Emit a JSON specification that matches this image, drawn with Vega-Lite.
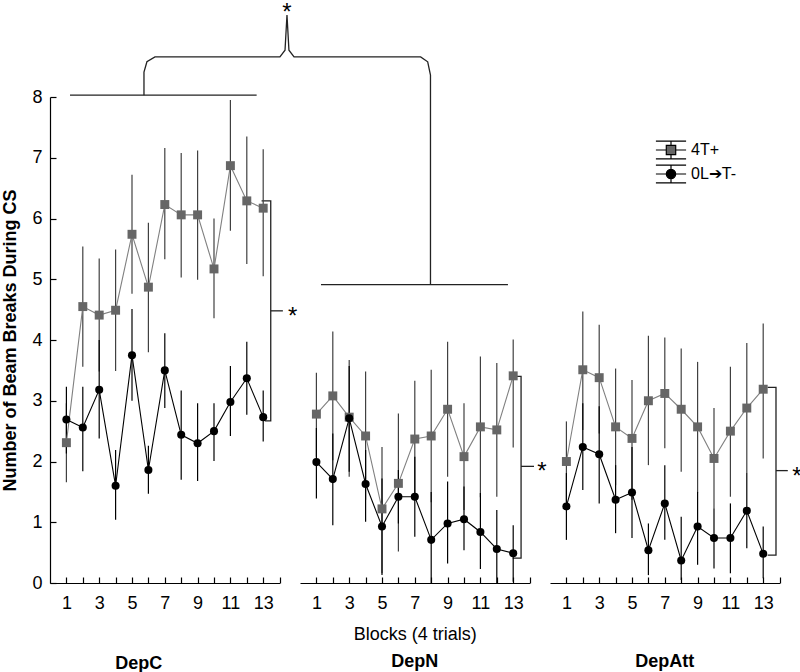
{
  "$schema": "https://vega.github.io/schema/vega-lite/v6.json",
  "padding": {"left": 1, "top": 1, "right": 0, "bottom": 0},
  "background": "white",
  "bounds": "flush",
  "spacing": 20,
  "config": {
    "font": "Liberation Sans",
    "view": {"stroke": null},
    "axis": {"grid": false, "domainColor": "#000", "tickColor": "#000", "labelColor": "#000", "titleColor": "#000", "labelFontSize": 18, "titleFontSize": 18, "titleFontWeight": "normal", "tickSize": -6, "domainWidth": 1.2, "tickWidth": 1.2, "labelFlush": false, "labelOverlap": false},
    "title": {"fontSize": 18, "fontWeight": "bold", "color": "#000", "orient": "bottom"},
    "legend": {"orient": "none", "legendX": 609, "legendY": 41, "padding": 0, "labelFontSize": 16, "labelOffset": 8, "rowPadding": 0, "symbolSize": 500, "labelColor": "#000", "symbolStrokeColor": "#000", "symbolStrokeWidth": 1, "symbolOpacity": 1}
  },
  "resolve": {"scale": {"x": "independent", "y": "independent"}},
  "datasets": {
    "d": [
      {"p":"DepC","s":"4T+","b":1,"m":2.31,"lo":1.66,"hi":2.96},
      {"p":"DepC","s":"4T+","b":2,"m":4.55,"lo":3.56,"hi":5.54},
      {"p":"DepC","s":"4T+","b":3,"m":4.41,"lo":3.48,"hi":5.34},
      {"p":"DepC","s":"4T+","b":4,"m":4.49,"lo":3.49,"hi":5.49},
      {"p":"DepC","s":"4T+","b":5,"m":5.74,"lo":4.76,"hi":6.72},
      {"p":"DepC","s":"4T+","b":6,"m":4.87,"lo":3.80,"hi":5.93},
      {"p":"DepC","s":"4T+","b":7,"m":6.23,"lo":5.33,"hi":7.16},
      {"p":"DepC","s":"4T+","b":8,"m":6.06,"lo":5.03,"hi":7.08},
      {"p":"DepC","s":"4T+","b":9,"m":6.06,"lo":4.99,"hi":7.12},
      {"p":"DepC","s":"4T+","b":10,"m":5.17,"lo":4.36,"hi":6.00},
      {"p":"DepC","s":"4T+","b":11,"m":6.87,"lo":5.80,"hi":7.95},
      {"p":"DepC","s":"4T+","b":12,"m":6.29,"lo":5.25,"hi":7.35},
      {"p":"DepC","s":"4T+","b":13,"m":6.17,"lo":5.05,"hi":7.14},
      {"p":"DepC","s":"0L→T-","b":1,"m":2.69,"lo":2.13,"hi":3.23},
      {"p":"DepC","s":"0L→T-","b":2,"m":2.56,"lo":1.84,"hi":3.23},
      {"p":"DepC","s":"0L→T-","b":3,"m":3.18,"lo":2.38,"hi":4.00},
      {"p":"DepC","s":"0L→T-","b":4,"m":1.60,"lo":1.04,"hi":2.19},
      {"p":"DepC","s":"0L→T-","b":5,"m":3.75,"lo":3.00,"hi":4.51},
      {"p":"DepC","s":"0L→T-","b":6,"m":1.86,"lo":1.47,"hi":2.26},
      {"p":"DepC","s":"0L→T-","b":7,"m":3.50,"lo":2.88,"hi":4.11},
      {"p":"DepC","s":"0L→T-","b":8,"m":2.44,"lo":1.70,"hi":3.17},
      {"p":"DepC","s":"0L→T-","b":9,"m":2.30,"lo":1.68,"hi":2.96},
      {"p":"DepC","s":"0L→T-","b":10,"m":2.50,"lo":2.01,"hi":2.96},
      {"p":"DepC","s":"0L→T-","b":11,"m":2.98,"lo":2.42,"hi":3.57},
      {"p":"DepC","s":"0L→T-","b":12,"m":3.37,"lo":2.77,"hi":3.97},
      {"p":"DepC","s":"0L→T-","b":13,"m":2.73,"lo":2.33,"hi":3.17},
      {"p":"DepN","s":"4T+","b":1,"m":2.78,"lo":2.08,"hi":3.46},
      {"p":"DepN","s":"4T+","b":2,"m":3.08,"lo":2.02,"hi":4.14},
      {"p":"DepN","s":"4T+","b":3,"m":2.73,"lo":1.75,"hi":3.67},
      {"p":"DepN","s":"4T+","b":4,"m":2.42,"lo":1.37,"hi":3.48},
      {"p":"DepN","s":"4T+","b":5,"m":1.22,"lo":0.16,"hi":2.24},
      {"p":"DepN","s":"4T+","b":6,"m":1.64,"lo":0.52,"hi":2.79},
      {"p":"DepN","s":"4T+","b":7,"m":2.37,"lo":1.42,"hi":3.33},
      {"p":"DepN","s":"4T+","b":8,"m":2.42,"lo":1.33,"hi":3.51},
      {"p":"DepN","s":"4T+","b":9,"m":2.86,"lo":1.75,"hi":3.97},
      {"p":"DepN","s":"4T+","b":10,"m":2.08,"lo":1.20,"hi":2.96},
      {"p":"DepN","s":"4T+","b":11,"m":2.57,"lo":1.41,"hi":3.73},
      {"p":"DepN","s":"4T+","b":12,"m":2.52,"lo":1.42,"hi":3.62},
      {"p":"DepN","s":"4T+","b":13,"m":3.41,"lo":2.23,"hi":4.01},
      {"p":"DepN","s":"0L→T-","b":1,"m":1.99,"lo":1.39,"hi":2.55},
      {"p":"DepN","s":"0L→T-","b":2,"m":1.71,"lo":0.95,"hi":2.46},
      {"p":"DepN","s":"0L→T-","b":3,"m":2.71,"lo":1.83,"hi":3.57},
      {"p":"DepN","s":"0L→T-","b":4,"m":1.63,"lo":1.01,"hi":2.19},
      {"p":"DepN","s":"0L→T-","b":5,"m":0.93,"lo":0.13,"hi":1.72},
      {"p":"DepN","s":"0L→T-","b":6,"m":1.42,"lo":0.98,"hi":1.86},
      {"p":"DepN","s":"0L→T-","b":7,"m":1.42,"lo":0.76,"hi":2.08},
      {"p":"DepN","s":"0L→T-","b":8,"m":0.71,"lo":0.0,"hi":1.50},
      {"p":"DepN","s":"0L→T-","b":9,"m":0.98,"lo":0.32,"hi":1.67},
      {"p":"DepN","s":"0L→T-","b":10,"m":1.05,"lo":0.54,"hi":1.59},
      {"p":"DepN","s":"0L→T-","b":11,"m":0.84,"lo":0.23,"hi":1.48},
      {"p":"DepN","s":"0L→T-","b":12,"m":0.56,"lo":0.0,"hi":1.20},
      {"p":"DepN","s":"0L→T-","b":13,"m":0.49,"lo":0.02,"hi":0.95},
      {"p":"DepAtt","s":"4T+","b":1,"m":2.00,"lo":1.34,"hi":2.66},
      {"p":"DepAtt","s":"4T+","b":2,"m":3.51,"lo":2.52,"hi":4.47},
      {"p":"DepAtt","s":"4T+","b":3,"m":3.38,"lo":2.46,"hi":4.25},
      {"p":"DepAtt","s":"4T+","b":4,"m":2.57,"lo":1.61,"hi":3.53},
      {"p":"DepAtt","s":"4T+","b":5,"m":2.38,"lo":1.37,"hi":3.34},
      {"p":"DepAtt","s":"4T+","b":6,"m":3.00,"lo":1.94,"hi":4.07},
      {"p":"DepAtt","s":"4T+","b":7,"m":3.12,"lo":2.22,"hi":4.04},
      {"p":"DepAtt","s":"4T+","b":8,"m":2.86,"lo":1.83,"hi":3.86},
      {"p":"DepAtt","s":"4T+","b":9,"m":2.57,"lo":1.49,"hi":3.64},
      {"p":"DepAtt","s":"4T+","b":10,"m":2.05,"lo":1.23,"hi":2.88},
      {"p":"DepAtt","s":"4T+","b":11,"m":2.50,"lo":1.42,"hi":3.56},
      {"p":"DepAtt","s":"4T+","b":12,"m":2.88,"lo":1.81,"hi":3.95},
      {"p":"DepAtt","s":"4T+","b":13,"m":3.19,"lo":2.05,"hi":4.27},
      {"p":"DepAtt","s":"0L→T-","b":1,"m":1.26,"lo":0.71,"hi":1.81},
      {"p":"DepAtt","s":"0L→T-","b":2,"m":2.24,"lo":1.53,"hi":2.96},
      {"p":"DepAtt","s":"0L→T-","b":3,"m":2.12,"lo":1.31,"hi":2.91},
      {"p":"DepAtt","s":"0L→T-","b":4,"m":1.37,"lo":0.82,"hi":1.94},
      {"p":"DepAtt","s":"0L→T-","b":5,"m":1.49,"lo":0.74,"hi":2.24},
      {"p":"DepAtt","s":"0L→T-","b":6,"m":0.54,"lo":0.13,"hi":0.98},
      {"p":"DepAtt","s":"0L→T-","b":7,"m":1.31,"lo":0.71,"hi":1.94},
      {"p":"DepAtt","s":"0L→T-","b":8,"m":0.37,"lo":0.05,"hi":1.09},
      {"p":"DepAtt","s":"0L→T-","b":9,"m":0.93,"lo":0.30,"hi":1.50},
      {"p":"DepAtt","s":"0L→T-","b":10,"m":0.74,"lo":0.24,"hi":1.23},
      {"p":"DepAtt","s":"0L→T-","b":11,"m":0.74,"lo":0.16,"hi":1.31},
      {"p":"DepAtt","s":"0L→T-","b":12,"m":1.19,"lo":0.57,"hi":1.81},
      {"p":"DepAtt","s":"0L→T-","b":13,"m":0.48,"lo":0.08,"hi":0.93}
    ],
    "ann": [
      {"p":"DepC","g":"top","o":1,"b":1.22,"m":8.03},
      {"p":"DepC","g":"top","o":2,"b":12.6,"m":8.03},
      {"p":"DepC","g":"brace","o":1,"b":5.73,"m":8.03},
      {"p":"DepC","g":"brace","o":2,"b":5.73,"m":8.41},
      {"p":"DepC","g":"brace","o":3,"b":5.91,"m":8.58},
      {"p":"DepC","g":"brace","o":4,"b":6.4,"m":8.66},
      {"p":"DepC","g":"brace","o":5,"b":14.02,"m":8.66},
      {"p":"DepC","g":"brace","o":6,"b":14.33,"m":8.77},
      {"p":"DepC","g":"brace","o":7,"b":14.45,"m":9.35},
      {"p":"DepC","g":"brace","o":8,"b":14.57,"m":8.77},
      {"p":"DepC","g":"brace","o":9,"b":14.88,"m":8.66},
      {"p":"DepC","g":"brace","o":10,"b":22.6,"m":8.66},
      {"p":"DepC","g":"brace","o":11,"b":23.03,"m":8.58},
      {"p":"DepC","g":"brace","o":12,"b":23.2,"m":8.36},
      {"p":"DepC","g":"brace","o":13,"b":23.2,"m":4.91},
      {"p":"DepC","g":"br","o":1,"b":12.9,"m":6.29},
      {"p":"DepC","g":"br","o":2,"b":13.46,"m":6.29},
      {"p":"DepC","g":"br","o":3,"b":13.46,"m":2.67},
      {"p":"DepC","g":"br","o":4,"b":13.1,"m":2.67},
      {"p":"DepC","g":"mid","o":1,"b":13.46,"m":4.48},
      {"p":"DepC","g":"mid","o":2,"b":14.2,"m":4.48},
      {"p":"DepN","g":"top","o":1,"b":1.28,"m":4.91},
      {"p":"DepN","g":"top","o":2,"b":12.68,"m":4.91},
      {"p":"DepN","g":"br","o":1,"b":12.97,"m":3.40},
      {"p":"DepN","g":"br","o":2,"b":13.48,"m":3.40},
      {"p":"DepN","g":"br","o":3,"b":13.48,"m":0.41},
      {"p":"DepN","g":"br","o":4,"b":12.97,"m":0.41},
      {"p":"DepN","g":"mid","o":1,"b":13.48,"m":1.92},
      {"p":"DepN","g":"mid","o":2,"b":14.27,"m":1.92},
      {"p":"DepAtt","g":"br","o":1,"b":13.27,"m":3.22},
      {"p":"DepAtt","g":"br","o":2,"b":13.78,"m":3.22},
      {"p":"DepAtt","g":"br","o":3,"b":13.78,"m":0.46},
      {"p":"DepAtt","g":"br","o":4,"b":13.27,"m":0.46},
      {"p":"DepAtt","g":"mid","o":1,"b":13.78,"m":1.85},
      {"p":"DepAtt","g":"mid","o":2,"b":14.5,"m":1.85}
    ],
    "stars": [
      {"p":"DepC","b":14.45,"m":9.48,"t":"*"},
      {"p":"DepC","b":14.8,"m":4.48,"t":"*"},
      {"p":"DepN","b":14.75,"m":1.92,"t":"*"},
      {"p":"DepAtt","b":15.05,"m":1.85,"t":"*"}
    ]
  },
  "hconcat": [
    {
      "width": 229.6, "height": 486,
      "title": {"text": "DepC", "offset": 43, "dx": -26},
      "encoding": {
        "x": {"field": "b", "type": "quantitative", "scale": {"domain": [0, 14], "nice": false, "zero": false},
              "axis": {"values": [1,2,3,4,5,6,7,8,9,10,11,12,13,14], "labelExpr": "datum.value % 2 == 1 ? datum.label : ''", "title": null, "labelPadding": 17}},
        "y": {"field": "m", "type": "quantitative", "scale": {"domain": [0, 8], "nice": false},
              "axis": {"values": [0,1,2,3,4,5,6,7,8], "title": "Number of Beam Breaks During CS", "titleFontWeight": "bold", "labelPadding": 14, "titlePadding": 12}}
      },
      "layer": [
        {"data": {"name": "ann"}, "transform": [{"filter": "datum.p == 'DepC'"}],
         "mark": {"type": "line", "color": "#222", "strokeWidth": 1.3},
         "encoding": {"detail": {"field": "g"}, "order": {"field": "o"}}},
        {"data": {"name": "stars"}, "transform": [{"filter": "datum.p == 'DepC'"}],
         "mark": {"type": "text", "fontSize": 24, "baseline": "middle", "dy": 6, "color": "#000"},
         "encoding": {"text": {"field": "t"}}},
        {"data": {"name": "d"}, "transform": [{"filter": "datum.p == 'DepC'"}],
         "mark": {"type": "rule", "strokeWidth": 1.2},
         "encoding": {"y": {"field": "lo", "type": "quantitative"}, "y2": {"field": "hi"},
                      "stroke": {"condition": {"test": "datum.s == '4T+'", "value": "#404040"}, "value": "#000"}}},
        {"data": {"name": "d"}, "transform": [{"filter": "datum.p == 'DepC'"}],
         "mark": {"type": "line", "strokeWidth": 1.1},
         "encoding": {"detail": {"field": "s"}, "stroke": {"condition": {"test": "datum.s == '4T+'", "value": "#808080"}, "value": "#000"}}},
        {"data": {"name": "d"}, "transform": [{"filter": "datum.p == 'DepC'"}],
         "mark": {"type": "point", "filled": true, "opacity": 1},
         "encoding": {
           "color": {"condition": {"test": "datum.s == '4T+'", "value": "#666666"}, "value": "#000000"},
           "shape": {"condition": {"test": "datum.s == '4T+'", "value": "square"}, "value": "circle"},
           "size": {"condition": {"test": "datum.s == '4T+'", "value": 80}, "value": 65}
         }},
        {"data": {"name": "d"}, "transform": [{"filter": "false"}],
         "mark": {"type": "point", "filled": true, "opacity": 1},
         "encoding": {
           "color": {"field": "s", "type": "nominal", "scale": {"domain": ["4T+", "0L→T-"], "range": ["#666666", "#000000"]},
                     "legend": {"title": null, "orient": "none", "legendX": 609, "legendY": 41, "symbolStrokeColor": "#000", "symbolStrokeWidth": 1.2, "labelExpr": "datum.label == '4T+' ? '4T+' : '0L➔T-'",
                                "encode": {"symbols": {"update": {"stroke": {"value": "#000"}, "strokeWidth": {"value": 1.2}}}}}},
           "shape": {"field": "s", "type": "nominal", "scale": {"domain": ["4T+", "0L→T-"], "range": ["M-1.35,-0.8H1.35M-1.35,0.8H1.35M-1.35,0H-0.42M0.42,0H1.35M0,-0.8V-0.42M0,0.42V0.8M-0.42,-0.42H0.42V0.42H-0.42Z", "M-1.35,-0.8H1.35M-1.35,0.8H1.35M-1.35,0H1.35M0,-0.8V0.8M-0.42,0A0.42,0.42,0,1,0,0.42,0A0.42,0.42,0,1,0,-0.42,0Z"]},
                     "legend": {"title": null, "orient": "none", "legendX": 609, "legendY": 41, "symbolStrokeColor": "#000", "symbolStrokeWidth": 1.2, "labelExpr": "datum.label == '4T+' ? '4T+' : '0L➔T-'",
                                "encode": {"symbols": {"update": {"stroke": {"value": "#000"}, "strokeWidth": {"value": 1.2}}}}}}
         }}
      ]
    },
    {
      "width": 229.6, "height": 486,
      "title": {"text": "DepN", "offset": 10},
      "encoding": {
        "x": {"field": "b", "type": "quantitative", "scale": {"domain": [0, 14], "nice": false, "zero": false},
              "axis": {"values": [1,2,3,4,5,6,7,8,9,10,11,12,13,14], "labelExpr": "datum.value % 2 == 1 ? datum.label : ''", "title": "Blocks (4 trials)", "labelPadding": 17, "titlePadding": 13}},
        "y": {"field": "m", "type": "quantitative", "scale": {"domain": [0, 8], "nice": false}, "axis": null}
      },
      "layer": [
        {"data": {"name": "ann"}, "transform": [{"filter": "datum.p == 'DepN'"}],
         "mark": {"type": "line", "color": "#222", "strokeWidth": 1.3},
         "encoding": {"detail": {"field": "g"}, "order": {"field": "o"}}},
        {"data": {"name": "stars"}, "transform": [{"filter": "datum.p == 'DepN'"}],
         "mark": {"type": "text", "fontSize": 24, "baseline": "middle", "dy": 6, "color": "#000"},
         "encoding": {"text": {"field": "t"}}},
        {"data": {"name": "d"}, "transform": [{"filter": "datum.p == 'DepN'"}],
         "mark": {"type": "rule", "strokeWidth": 1.2},
         "encoding": {"y": {"field": "lo", "type": "quantitative"}, "y2": {"field": "hi"},
                      "stroke": {"condition": {"test": "datum.s == '4T+'", "value": "#404040"}, "value": "#000"}}},
        {"data": {"name": "d"}, "transform": [{"filter": "datum.p == 'DepN'"}],
         "mark": {"type": "line", "strokeWidth": 1.1},
         "encoding": {"detail": {"field": "s"}, "stroke": {"condition": {"test": "datum.s == '4T+'", "value": "#808080"}, "value": "#000"}}},
        {"data": {"name": "d"}, "transform": [{"filter": "datum.p == 'DepN'"}],
         "mark": {"type": "point", "filled": true, "opacity": 1},
         "encoding": {
           "color": {"condition": {"test": "datum.s == '4T+'", "value": "#666666"}, "value": "#000000"},
           "shape": {"condition": {"test": "datum.s == '4T+'", "value": "square"}, "value": "circle"},
           "size": {"condition": {"test": "datum.s == '4T+'", "value": 80}, "value": 65}
         }}
      ]
    },
    {
      "width": 229.6, "height": 486,
      "title": {"text": "DepAtt", "offset": 41},
      "encoding": {
        "x": {"field": "b", "type": "quantitative", "scale": {"domain": [0, 14], "nice": false, "zero": false},
              "axis": {"values": [1,2,3,4,5,6,7,8,9,10,11,12,13,14], "labelExpr": "datum.value % 2 == 1 ? datum.label : ''", "title": null, "labelPadding": 17}},
        "y": {"field": "m", "type": "quantitative", "scale": {"domain": [0, 8], "nice": false}, "axis": null}
      },
      "layer": [
        {"data": {"name": "ann"}, "transform": [{"filter": "datum.p == 'DepAtt'"}],
         "mark": {"type": "line", "color": "#222", "strokeWidth": 1.3},
         "encoding": {"detail": {"field": "g"}, "order": {"field": "o"}}},
        {"data": {"name": "stars"}, "transform": [{"filter": "datum.p == 'DepAtt'"}],
         "mark": {"type": "text", "fontSize": 24, "baseline": "middle", "dy": 6, "color": "#000"},
         "encoding": {"text": {"field": "t"}}},
        {"data": {"name": "d"}, "transform": [{"filter": "datum.p == 'DepAtt'"}],
         "mark": {"type": "rule", "strokeWidth": 1.2},
         "encoding": {"y": {"field": "lo", "type": "quantitative"}, "y2": {"field": "hi"},
                      "stroke": {"condition": {"test": "datum.s == '4T+'", "value": "#404040"}, "value": "#000"}}},
        {"data": {"name": "d"}, "transform": [{"filter": "datum.p == 'DepAtt'"}],
         "mark": {"type": "line", "strokeWidth": 1.1},
         "encoding": {"detail": {"field": "s"}, "stroke": {"condition": {"test": "datum.s == '4T+'", "value": "#808080"}, "value": "#000"}}},
        {"data": {"name": "d"}, "transform": [{"filter": "datum.p == 'DepAtt'"}],
         "mark": {"type": "point", "filled": true, "opacity": 1},
         "encoding": {
           "color": {"condition": {"test": "datum.s == '4T+'", "value": "#666666"}, "value": "#000000"},
           "shape": {"condition": {"test": "datum.s == '4T+'", "value": "square"}, "value": "circle"},
           "size": {"condition": {"test": "datum.s == '4T+'", "value": 80}, "value": 65}
         }}
      ]
    }
  ]
}
